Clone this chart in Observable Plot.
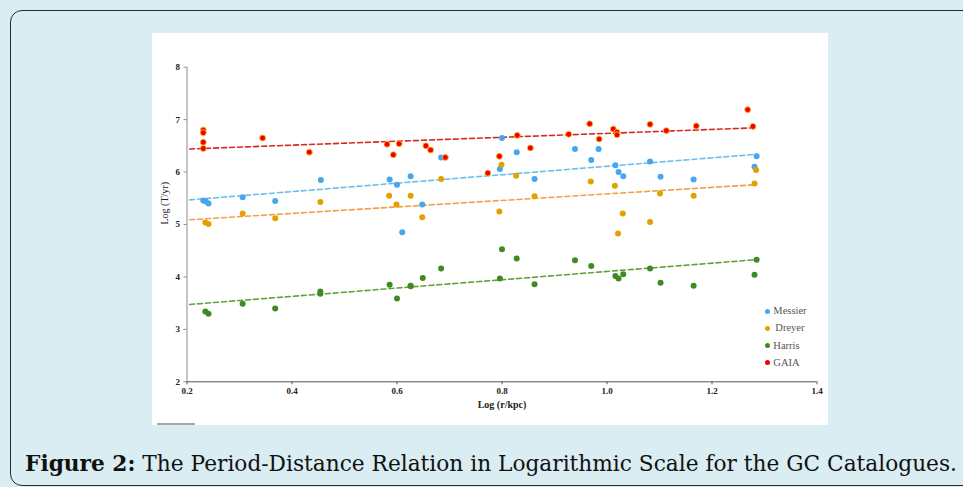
<!DOCTYPE html>
<html>
<head>
<meta charset="utf-8">
<script src="https://cdn.jsdelivr.net/npm/d3@7"></script>
<script src="https://cdn.jsdelivr.net/npm/@observablehq/plot@0.6"></script>
<style>
  html, body { margin: 0; padding: 0; }
  body { width: 963px; height: 487px; overflow: hidden; position: relative; background: #d9edf2; }
  #box { position: absolute; left: 10px; top: 10px; width: 1000px; height: 474px; border: 1.5px solid #2a2a2a; border-radius: 12px; }
  #chart { position: absolute; left: 152px; top: 33px; width: 676px; height: 392px; background: #fff; }
  #chart svg { display: block; }
  #scrollbar { position: absolute; left: 157px; top: 423px; width: 38px; height: 2px; background: #a9a9a9; }
  .leg { position: absolute; font-family: "Liberation Serif", "Times New Roman", Tinos, Times, serif; font-size: 10.5px; color: #555; white-space: nowrap; line-height: 12px; }
  .leg span.dot { position: absolute; width: 5px; height: 5px; border-radius: 50%; left: -8px; top: 3.5px; }
  #caption { position: absolute; left: 25px; top: 450.6px; font-family: "DejaVu Serif", serif; font-size: 23px; line-height: 23px; color: #111; white-space: nowrap; transform-origin: 0 0; }
</style>
</head>
<body>
<div id="box"></div>
<div id="chart"></div>
<div id="scrollbar"></div>
<div id="legend"></div>
<div id="caption"><b>Figure 2:</b> The Period-Distance Relation in Logarithmic Scale for the GC Catalogues.</div>
<script>
// ---- data ----
const seriesNames = ["Messier", "Dreyer", "Harris", "GAIA"];
const seriesColors = ["#45a7f0", "#e3a100", "#3f8a22", "#f20000"];
const trendColors = ["#6cbfec", "#f0a045", "#65a03c", "#d82a22"];

const messierX = [0.231,0.236,0.241,0.306,0.368,0.455,0.586,0.600,0.626,0.648,0.610,0.684,0.796,0.800,0.828,0.862,0.939,0.984,0.970,1.016,1.022,1.031,1.082,1.102,1.165,1.285,1.281];
const messierY = [5.46,5.44,5.40,5.52,5.45,5.85,5.86,5.76,5.92,5.38,4.85,6.28,6.06,6.65,6.38,5.87,6.44,6.44,6.23,6.13,6.00,5.92,6.20,5.91,5.86,6.30,6.10];

const dreyerX = [0.235,0.241,0.306,0.368,0.454,0.585,0.626,0.599,0.648,0.684,0.799,0.795,0.827,0.862,0.969,1.015,1.030,1.021,1.082,1.101,1.165,1.284,1.281];
const dreyerY = [5.04,5.01,5.21,5.12,5.43,5.55,5.55,5.38,5.14,5.87,6.14,5.25,5.93,5.54,5.82,5.74,5.21,4.83,5.05,5.59,5.55,6.04,5.78];

const harrisX = [0.235,0.241,0.306,0.368,0.454,0.454,0.586,0.600,0.626,0.626,0.649,0.684,0.800,0.796,0.828,0.862,0.939,0.970,1.016,1.022,1.031,1.082,1.102,1.165,1.285,1.281];
const harrisY = [3.34,3.30,3.49,3.40,3.72,3.68,3.85,3.59,3.83,3.82,3.98,4.16,4.53,3.97,4.35,3.86,4.32,4.21,4.02,3.97,4.05,4.16,3.89,3.83,4.33,4.04];

const gaiaX = [0.231,0.231,0.231,0.231,0.344,0.433,0.581,0.593,0.604,0.655,0.664,0.692,0.773,0.795,0.829,0.854,0.927,0.967,0.985,1.012,1.019,1.019,1.082,1.113,1.170,1.268,1.278];
const gaiaY = [6.80,6.75,6.57,6.45,6.65,6.38,6.53,6.33,6.54,6.50,6.42,6.28,5.98,6.30,6.70,6.46,6.72,6.92,6.63,6.82,6.76,6.71,6.91,6.79,6.88,7.19,6.87];

// dashed trend lines (end points)
const trendX = [0.205, 1.285];
const messierTrend = [5.47, 6.34];
const dreyerTrend = [5.09, 5.76];
const harrisTrend = [3.475, 4.33];
const gaiaTrend = [6.44, 6.845];

const xTicks = [0.2, 0.4, 0.6, 0.8, 1.0, 1.2, 1.4];
const yTicks = [2, 3, 4, 5, 6, 7, 8];

const xLabel = "Log (r/kpc)";
const yLabel = "Log (T/yr)";

// ---- build tables ----
const allX = [messierX, dreyerX, harrisX, gaiaX];
const allY = [messierY, dreyerY, harrisY, gaiaY];
const allTrend = [messierTrend, dreyerTrend, harrisTrend, gaiaTrend];

const points = [];
allX.forEach((xs, s) => xs.forEach((x, i) => points.push({series: seriesNames[s], x, y: allY[s][i]})));
const trends = [];
allTrend.forEach((ty, s) => trendX.forEach((x, i) => trends.push({series: seriesNames[s], x, y: ty[i]})));

const colorOf = Object.fromEntries(seriesNames.map((n, i) => [n, seriesColors[i]]));
const trendColorOf = Object.fromEntries(seriesNames.map((n, i) => [n, trendColors[i]]));

const serif = "'Liberation Serif', 'Times New Roman', Tinos, Times, serif";

const chart = Plot.plot({
  width: 676,
  height: 392,
  marginLeft: 34.5,
  marginRight: 11.5,
  marginTop: 33.7,
  marginBottom: 43.7,
  style: {fontFamily: serif, fontSize: "9px", color: "#222", background: "#fff"},
  x: {domain: [xTicks[0], xTicks[xTicks.length - 1]]},
  y: {domain: [yTicks[0], yTicks[yTicks.length - 1]]},
  marks: [
    Plot.ruleX([xTicks[0]], {stroke: "#8a8a8a", strokeWidth: 1}),
    Plot.ruleY([yTicks[0]], {stroke: "#555", strokeWidth: 1}),
    Plot.axisX({ticks: xTicks, tickSize: 3, tickPadding: 3, tickFormat: d3.format(".1f"), label: null, fontWeight: "bold", stroke: "#555"}),
    Plot.axisY({ticks: yTicks, tickSize: 3, tickPadding: 4, tickFormat: d3.format("d"), label: null, fontWeight: "bold", stroke: "#8a8a8a"}),
    ...seriesNames.map(n => Plot.line(trends.filter(d => d.series === n), {
      x: "x", y: "y", stroke: trendColorOf[n], strokeWidth: 1.6, strokeDasharray: "5,3"
    })),
    ...seriesNames.map(n => Plot.dot(points.filter(d => d.series === n), {
      x: "x", y: "y", r: 3, fill: colorOf[n],
      stroke: n === "GAIA" ? "#f7c23a" : "none", strokeWidth: n === "GAIA" ? 0.9 : 0
    })),
    Plot.text([yLabel], {frameAnchor: "left", rotate: -90, dx: -22.5, fontSize: 10, fill: "#222"}),
    Plot.text([xLabel], {frameAnchor: "bottom", dy: 26, fontSize: 10, fontWeight: "bold", fill: "#222"})
  ]
});
document.getElementById("chart").appendChild(chart);

// ---- legend ----
const legend = document.getElementById("legend");
const legTops = [305, 322.3, 339.6, 356.9];
seriesNames.forEach((n, i) => {
  const d = document.createElement("div");
  d.className = "leg";
  d.style.left = (n === "Dreyer" ? 775.3 : 773.3) + "px";
  d.style.top = legTops[i] + "px";
  const dot = document.createElement("span");
  dot.className = "dot";
  dot.style.background = seriesColors[i];
  if (n === "Dreyer") dot.style.left = "-10px";
  d.appendChild(dot);
  d.appendChild(document.createTextNode(n));
  legend.appendChild(d);
});

// ---- fit caption width ----
const cap = document.getElementById("caption");
const w = cap.getBoundingClientRect().width;
cap.style.transform = `scaleX(${(957 - 25) / w})`;
</script>
</body>
</html>
